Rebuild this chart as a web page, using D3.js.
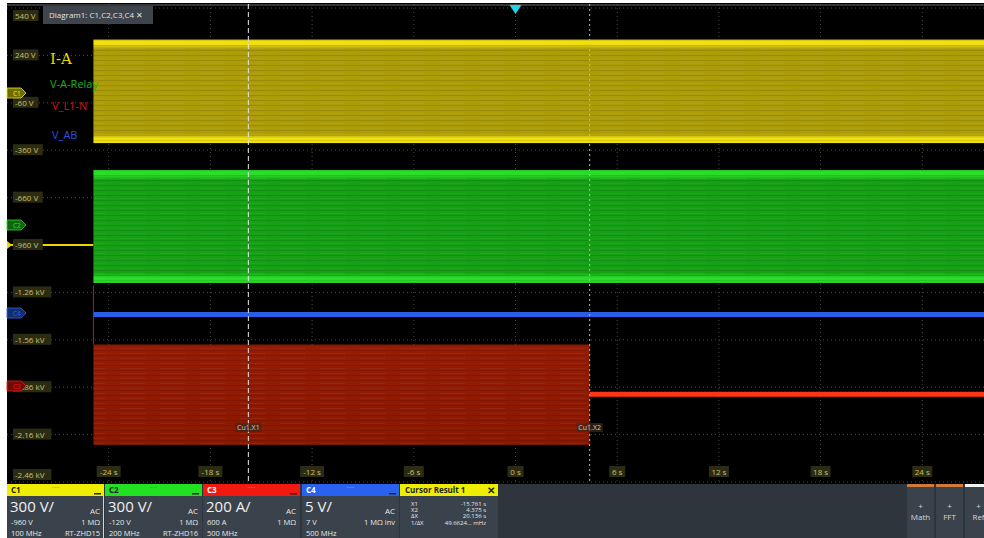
<!DOCTYPE html>
<html>
<head>
<meta charset="utf-8">
<script src="https://cdn.jsdelivr.net/npm/d3@7"></script>
<style>
  html, body { margin: 0; padding: 0; background: #fff; }
  svg { display: block; font-family: "Open Sans", "Noto Sans", sans-serif; }
</style>
</head>
<body>
<svg id="scope" width="984" height="538"></svg>
<script>
// time axis (s) and screen grid (display volts, C1 scale)
var timeTicks = [-24, -18, -12, -6, 0, 6, 12, 18, 24];
var voltTicks = [540, 240, -60, -360, -660, -960, -1260, -1560, -1860, -2160, -2460];
var voltLabels = ["540 V", "240 V", "-60 V", "-360 V", "-660 V", "-960 V",
                  "-1.26 kV", "-1.56 kV", "-1.86 kV", "-2.16 kV", "-2.46 kV"];

// traces
var traceNames  = ["I-A", "V-A-Relay", "V_L1-N", "V_AB"];
var traceColors = ["#e8d800", "#22c022", "#e02010", "#2a5ee8"];
var recordStart = -24.9;
var yellowBand = [340, -315];     // C1 envelope, top / bottom
var yellowIdle = -960;            // C1 before record start
var greenBand  = [-485, -1200];   // C2 envelope
var blueLevel  = -1400;           // C4 flat line
var redBand    = [-1590, -2225];  // C3 envelope until it drops
var redStop    = 4.375;
var redLevel   = -1905;           // C3 after drop
var redJump    = [-1215, -1590];  // thin red edge at record start

// cursors
var cursorNames = ["Cu1.X1", "Cu1.X2"];
var cursorX = [-15.761, 4.375];

// bottom info panel
var chanTitles = ["C1", "C2", "C3", "C4"];
var chanColors = ["#f0ee00", "#22e022", "#f01a10", "#2a62f0"];
var chanScale  = ["300 V/", "300 V/", "200 A/", "5 V/"];
var chanOffset = ["-960 V", "-120 V", "600 A", "7 V"];
var chanImp    = ["1 MΩ", "1 MΩ", "1 MΩ", "1 MΩ inv"];
var chanBw     = ["100 MHz", "200 MHz", "500 MHz", "500 MHz"];
var chanProbe  = ["RT-ZHD15", "RT-ZHD16", "", ""];
var cursorRows = ["X1", "X2", "ΔX", "1/ΔX"];
var cursorVals = ["-15.761 s", "4.375 s", "20.136 s", "49.6624... mHz"];
var toolButtons = ["Math", "FFT", "Ref"];

(function () {
  var svg = d3.select("svg#scope");
  var left = 7, top = 8, plotTop = 4, plotBottom = 482, right = 984;

  var x = d3.scaleLinear().domain([-30, 30]).range([left, 1024]);
  var y = d3.scaleLinear().domain([540, -2460]).range([top, plotBottom]);

  svg.append("rect").attr("x", left).attr("y", 3).attr("width", right - left)
     .attr("height", 535).attr("fill", "#000");

  var defs = svg.append("defs");
  function bandGrad(id, edge, mid) {
    var g = defs.append("linearGradient").attr("id", id)
        .attr("x1", 0).attr("y1", 0).attr("x2", 0).attr("y2", 1);
    [[0, edge], [0.045, edge], [0.09, mid], [0.91, mid], [0.955, edge], [1, edge]]
      .forEach(function (s) { g.append("stop").attr("offset", s[0]).attr("stop-color", s[1]); });
  }
  bandGrad("gY", "#f0e010", "#ab9c08");
  bandGrad("gG", "#28dc28", "#15a015");
  var gr = defs.append("linearGradient").attr("id", "gR")
      .attr("x1", 0).attr("y1", 0).attr("x2", 0).attr("y2", 1);
  gr.append("stop").attr("offset", 0).attr("stop-color", "#961c04");
  gr.append("stop").attr("offset", 1).attr("stop-color", "#8a1800");
  var pat = defs.append("pattern").attr("id", "streak").attr("patternUnits", "userSpaceOnUse")
      .attr("width", 40).attr("height", 5);
  pat.append("rect").attr("width", 40).attr("height", 1).attr("fill", "#000").attr("opacity", 0.1);
  pat.append("rect").attr("y", 3).attr("width", 25).attr("height", 1).attr("fill", "#fff").attr("opacity", 0.05);

  var clip = defs.append("clipPath").attr("id", "plotclip");
  clip.append("rect").attr("x", left).attr("y", plotTop).attr("width", right - left)
      .attr("height", plotBottom - plotTop);

  // grid
  var grid = svg.append("g");
  grid.selectAll("line.h").data(voltTicks).enter().append("line")
      .attr("x1", left).attr("x2", right).attr("y1", d => y(d)).attr("y2", d => y(d))
      .attr("stroke", "#4a4a4a").attr("stroke-dasharray", "1,3");
  grid.selectAll("line.v").data(timeTicks).enter().append("line")
      .attr("y1", plotTop).attr("y2", plotBottom).attr("x1", d => x(d)).attr("x2", d => x(d))
      .attr("stroke", "#4a4a4a").attr("stroke-dasharray", "1,3");
  svg.append("line").attr("x1", left).attr("x2", right).attr("y1", 5).attr("y2", 5)
      .attr("stroke", "#6a6a6a");

  var traces = svg.append("g").attr("clip-path", "url(#plotclip)");
  function band(t0, t1, v) {
    return traces.append("rect").attr("x", x(t0)).attr("width", x(t1) - x(t0))
        .attr("y", y(v[0])).attr("height", y(v[1]) - y(v[0]));
  }
  // C1 yellow
  traces.append("line").attr("x1", left).attr("x2", x(recordStart))
      .attr("y1", y(yellowIdle)).attr("y2", y(yellowIdle))
      .attr("stroke", traceColors[0]).attr("stroke-width", 2);
  band(recordStart, 30, yellowBand).attr("fill", "url(#gY)");
  band(recordStart, 30, yellowBand).attr("fill", "url(#streak)");
  // C2 green
  band(recordStart, 30, greenBand).attr("fill", "url(#gG)");
  band(recordStart, 30, greenBand).attr("fill", "url(#streak)");
  // C4 blue
  traces.append("line").attr("x1", x(recordStart)).attr("x2", right)
      .attr("y1", y(blueLevel)).attr("y2", y(blueLevel))
      .attr("stroke", traceColors[3]).attr("stroke-width", 5);
  // C3 red
  traces.append("line").attr("x1", x(recordStart)).attr("x2", x(recordStart))
      .attr("y1", y(redJump[0])).attr("y2", y(redJump[1]))
      .attr("stroke", "#b02010").attr("stroke-width", 1);
  band(recordStart, redStop, redBand).attr("fill", "url(#gR)");
  band(recordStart, redStop, redBand).attr("fill", "url(#streak)");
  traces.append("line").attr("x1", x(redStop)).attr("x2", right)
      .attr("y1", y(redLevel)).attr("y2", y(redLevel))
      .attr("stroke", "#ff3414").attr("stroke-width", 5);

  // cursors
  svg.append("line").attr("x1", x(cursorX[0])).attr("x2", x(cursorX[0]))
      .attr("y1", plotTop).attr("y2", plotBottom)
      .attr("stroke", "#e8e8e8").attr("stroke-dasharray", "5,3");
  svg.append("line").attr("x1", x(cursorX[1])).attr("x2", x(cursorX[1]))
      .attr("y1", plotTop).attr("y2", plotBottom)
      .attr("stroke", "#bbbbbb").attr("stroke-dasharray", "2,3");
  cursorX.forEach(function (c, i) {
    var g = svg.append("g").attr("transform", "translate(" + (x(c) - 13) + ",429)");
    g.append("rect").attr("x", 0).attr("y", -6).attr("width", 26).attr("height", 9)
        .attr("fill", "#3a2a20").attr("opacity", 0.7);
    g.append("text").attr("x", 13).attr("y", 1).attr("text-anchor", "middle")
        .attr("font-size", 7).attr("fill", "#c8c8c8").text(cursorNames[i]);
  });

  // trigger marker
  svg.append("path").attr("d", "M" + (x(0) - 6) + ",5 L" + (x(0) + 6) + ",5 L" + x(0) + ",14 Z")
      .attr("fill", "#22d4e6");

  // axis labels
  var yl = svg.append("g");
  voltTicks.forEach(function (v, i) {
    var yy = Math.min(Math.max(y(v), 16), 475);
    var g = yl.append("g").attr("transform", "translate(13," + yy + ")");
    var w = voltLabels[i].length * 4.3 + 4;
    g.append("rect").attr("x", 0).attr("y", -6).attr("width", w).attr("height", 11)
        .attr("fill", "#2c2c14");
    g.append("text").attr("x", 2).attr("y", 3).attr("font-size", 8)
        .attr("fill", "#c8c070").text(voltLabels[i]);
  });
  timeTicks.forEach(function (t) {
    var lab = t + " s";
    var w = lab.length * 4 + 4;
    var g = svg.append("g").attr("transform", "translate(" + x(t) + ",472)");
    g.append("rect").attr("x", -w / 2).attr("y", -6).attr("width", w).attr("height", 11)
        .attr("fill", "#2c2c14");
    g.append("text").attr("text-anchor", "middle").attr("y", 3).attr("font-size", 8)
        .attr("fill", "#c8c070").text(lab);
  });

  // channel tags on left
  var tagY = [93, 225, 386, 313];
  chanTitles.forEach(function (c, i) {
    var g = svg.append("g").attr("transform", "translate(" + left + "," + tagY[i] + ")");
    g.append("path").attr("d", "M0,-5 L14,-5 L19,0 L14,5 L0,5 Z")
        .attr("fill", d3.color(chanColors[i]).darker(2.2)).attr("stroke", chanColors[i])
        .attr("stroke-width", 0.8);
    g.append("text").attr("x", 6).attr("y", 3).attr("font-size", 6.5)
        .attr("fill", chanColors[i]).text(c);
  });
  svg.append("path").attr("d", "M" + left + "," + (y(yellowIdle) - 4) + " L" + (left + 5) + "," +
      y(yellowIdle) + " L" + left + "," + (y(yellowIdle) + 4) + " Z").attr("fill", traceColors[0]);

  // trace names
  var nameY = [64, 88, 110, 139];
  var nameCol = ["#e8d800", "#20b020", "#d01808", "#2a50e0"];
  traceNames.forEach(function (n, i) {
    svg.append("text").attr("x", i < 2 ? 50 : 52).attr("y", nameY[i])
        .attr("font-size", i == 0 ? 15 : 11)
        .attr("font-family", i == 0 ? "'DejaVu Serif', serif" : null)
        .attr("fill", nameCol[i]).text(n);
  });

  // diagram tab
  svg.append("rect").attr("x", 43).attr("y", 6).attr("width", 110).attr("height", 18)
      .attr("fill", "#3e444c");
  svg.append("text").attr("x", 49).attr("y", 18).attr("font-size", 8)
      .attr("fill", "#e0e0e0").text("Diagram1: C1,C2,C3,C4 ✕");

  // bottom panel
  var panelY = 484;
  svg.append("rect").attr("x", left).attr("y", panelY).attr("width", right - left)
      .attr("height", 538 - panelY).attr("fill", "#2f353c");
  var boxX = [7, 105, 203, 302];
  chanTitles.forEach(function (c, i) {
    var bx = boxX[i], bw = 97;
    var g = svg.append("g").attr("transform", "translate(" + bx + "," + panelY + ")");
    g.append("rect").attr("width", bw).attr("height", 54).attr("fill", "#3a424b");
    g.append("rect").attr("width", bw).attr("height", 12).attr("fill", chanColors[i]);
    g.append("text").attr("x", 4).attr("y", 9).attr("font-size", 8).attr("font-weight", "bold")
        .attr("fill", i == 0 || i == 1 ? "#222" : "#fff").text(c);
    g.append("text").attr("x", bw / 2).attr("y", 5).attr("text-anchor", "middle")
        .attr("font-size", 6).attr("fill", i < 2 ? "#555" : "#ddd").text("·····");
    g.append("rect").attr("x", bw - 10).attr("y", 9).attr("width", 7).attr("height", 1.5)
        .attr("fill", "#222");
    g.append("text").attr("x", 3).attr("y", 28).attr("font-size", 15).attr("fill", "#f0f0f0")
        .text(chanScale[i]);
    g.append("text").attr("x", bw - 4).attr("y", 30).attr("text-anchor", "end")
        .attr("font-size", 8).attr("fill", "#e8e8e8").text("AC");
    g.append("text").attr("x", 4).attr("y", 41).attr("font-size", 7.5).attr("fill", "#e8e8e8")
        .text(chanOffset[i]);
    g.append("text").attr("x", bw - 4).attr("y", 41).attr("text-anchor", "end")
        .attr("font-size", 7.5).attr("fill", "#e8e8e8").text(chanImp[i]);
    g.append("text").attr("x", 4).attr("y", 52).attr("font-size", 7.5).attr("fill", "#e8e8e8")
        .text(chanBw[i]);
    g.append("text").attr("x", bw - 4).attr("y", 52).attr("text-anchor", "end")
        .attr("font-size", 7.5).attr("fill", "#e8e8e8").text(chanProbe[i]);
  });
  svg.append("line").attr("x1", 103.5).attr("x2", 103.5).attr("y1", panelY).attr("y2", 538)
      .attr("stroke", chanColors[0]);

  // cursor result box
  var cr = svg.append("g").attr("transform", "translate(400," + panelY + ")");
  cr.append("rect").attr("width", 98).attr("height", 54).attr("fill", "#3a424b");
  cr.append("rect").attr("width", 98).attr("height", 12).attr("fill", "#f0ee00");
  cr.append("text").attr("x", 5).attr("y", 9).attr("font-size", 8).attr("font-weight", "bold")
      .attr("fill", "#222").text("Cursor Result 1");
  cr.append("text").attr("x", 91).attr("y", 10).attr("text-anchor", "middle").attr("font-size", 10)
      .attr("font-weight", "bold").attr("fill", "#222").text("✕");
  cursorRows.forEach(function (r, i) {
    cr.append("text").attr("x", 11).attr("y", 22 + i * 6.2).attr("font-size", 6)
        .attr("fill", "#e8e8e8").text(r);
    cr.append("text").attr("x", 86).attr("y", 22 + i * 6.2).attr("text-anchor", "end")
        .attr("font-size", 6).attr("fill", "#e8e8e8").text(cursorVals[i]);
  });

  // right side buttons
  var btnX = [907, 936, 965], btnW = 27;
  toolButtons.forEach(function (b, i) {
    var g = svg.append("g").attr("transform", "translate(" + btnX[i] + "," + panelY + ")");
    g.append("rect").attr("width", btnW).attr("height", 54).attr("fill", "#3a424b");
    g.append("rect").attr("width", btnW).attr("height", 3)
        .attr("fill", i < 2 ? "#d07a3a" : "#f4f4f4");
    g.append("text").attr("x", btnW / 2).attr("y", 25).attr("text-anchor", "middle")
        .attr("font-size", 8).attr("fill", "#d8d8d8").text("+");
    g.append("text").attr("x", btnW / 2).attr("y", 36).attr("text-anchor", "middle")
        .attr("font-size", 8).attr("fill", "#d8d8d8").text(b);
  });
})();
</script>
</body>
</html>
